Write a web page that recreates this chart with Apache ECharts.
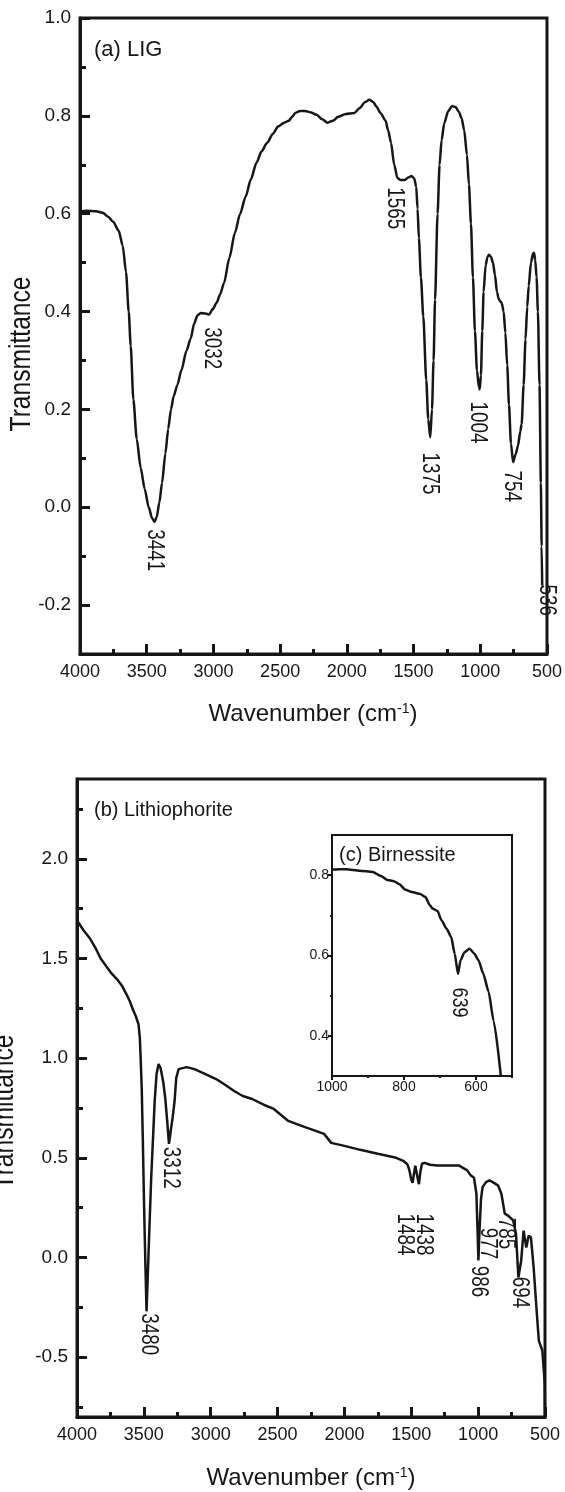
<!DOCTYPE html>
<html>
<head>
<meta charset="utf-8">
<script src="https://cdn.jsdelivr.net/npm/echarts@6.0.0/dist/echarts.min.js"></script>
<style>
  html, body { margin: 0; padding: 0; background: #fff; }
  #chart { width: 565px; height: 1492px; }
</style>
</head>
<body>
<div id="chart"></div>
<script>
// (a) LIG, [wavenumber, transmittance]
const ligSpectrum = [
  [4000, 0.604], [3950, 0.606], [3880, 0.605], [3830, 0.602], [3790, 0.594], [3750, 0.583],
  [3710, 0.565], [3680, 0.535], [3655, 0.48], [3635, 0.40], [3620, 0.33], [3600, 0.22],
  [3575, 0.14], [3545, 0.08], [3515, 0.037], [3485, 0.0], [3460, -0.022], [3441, -0.03],
  [3425, -0.02], [3405, 0.01], [3385, 0.05], [3360, 0.11], [3339, 0.16], [3318, 0.2],
  [3298, 0.227], [3270, 0.25], [3240, 0.28], [3202, 0.32], [3170, 0.345], [3145, 0.375],
  [3120, 0.392], [3095, 0.397], [3060, 0.396], [3032, 0.394], [3005, 0.405], [2976, 0.418],
  [2950, 0.435], [2920, 0.459], [2880, 0.51], [2839, 0.561], [2800, 0.60], [2758, 0.635],
  [2720, 0.67], [2677, 0.704], [2640, 0.727], [2597, 0.745], [2555, 0.763], [2516, 0.778],
  [2470, 0.786], [2435, 0.79], [2410, 0.798], [2387, 0.806], [2350, 0.81], [2314, 0.81],
  [2270, 0.807], [2226, 0.802], [2185, 0.793], [2145, 0.786], [2105, 0.79], [2065, 0.798],
  [2008, 0.804], [1944, 0.806], [1903, 0.816], [1865, 0.828], [1831, 0.833], [1800, 0.828],
  [1782, 0.82], [1745, 0.805], [1710, 0.79], [1690, 0.77], [1669, 0.745], [1645, 0.70],
  [1621, 0.673], [1600, 0.669], [1565, 0.669], [1540, 0.674], [1515, 0.677], [1495, 0.672],
  [1480, 0.655], [1470, 0.61], [1460, 0.55], [1445, 0.47], [1427, 0.39], [1405, 0.26],
  [1390, 0.18], [1375, 0.143], [1362, 0.2], [1350, 0.3], [1339, 0.424], [1320, 0.6],
  [1305, 0.7], [1290, 0.75], [1270, 0.785], [1240, 0.81], [1210, 0.82], [1185, 0.818],
  [1160, 0.808], [1140, 0.795], [1120, 0.77], [1100, 0.72], [1085, 0.66], [1070, 0.58],
  [1055, 0.47], [1040, 0.36], [1025, 0.28], [1010, 0.245], [1004, 0.241], [995, 0.27],
  [985, 0.36], [975, 0.44], [960, 0.495], [945, 0.512], [935, 0.516], [920, 0.512],
  [905, 0.5], [890, 0.475], [875, 0.44], [860, 0.424], [840, 0.418], [825, 0.4],
  [812, 0.357], [798, 0.29], [785, 0.21], [770, 0.13], [754, 0.092], [735, 0.108],
  [718, 0.125], [700, 0.155], [690, 0.17], [675, 0.25], [661, 0.343], [648, 0.41],
  [637, 0.452], [620, 0.5], [605, 0.518], [597, 0.52], [588, 0.505], [578, 0.47],
  [568, 0.4], [556, 0.25], [546, 0.05], [540, -0.08], [536, -0.16]
];
// peak labels: [wavenumber, transmittance, text] (label centre)
const ligPeaks = [
  [3445, -0.088, '3441'], [3014, 0.325, '3032'], [1647, 0.611, '1565'],
  [1385, 0.069, '1375'], [1023, 0.173, '1004'], [766, 0.043, '754'], [508, -0.19, '536']
];

// (b) Lithiophorite
const lithioSpectrum = [
  [4000, 1.69], [3950, 1.64], [3903, 1.6], [3860, 1.55], [3823, 1.5], [3780, 1.46],
  [3742, 1.425], [3700, 1.395], [3661, 1.36], [3630, 1.32], [3605, 1.285], [3580, 1.24],
  [3560, 1.21], [3540, 1.17], [3530, 1.1], [3524, 1.0], [3516, 0.85], [3508, 0.6],
  [3498, 0.25], [3488, -0.05], [3480, -0.27], [3470, -0.08], [3460, 0.12], [3445, 0.4],
  [3430, 0.62], [3419, 0.785], [3405, 0.92], [3390, 0.97], [3375, 0.95], [3355, 0.88],
  [3340, 0.8], [3325, 0.68], [3312, 0.57], [3298, 0.64], [3285, 0.7], [3270, 0.785],
  [3258, 0.9], [3240, 0.945], [3226, 0.955], [3180, 0.955], [3121, 0.945], [3040, 0.92],
  [2960, 0.895], [2890, 0.865], [2825, 0.835], [2760, 0.81], [2690, 0.795], [2600, 0.765],
  [2528, 0.745], [2420, 0.685], [2300, 0.655], [2152, 0.62], [2099, 0.575], [2000, 0.56],
  [1882, 0.54], [1750, 0.52], [1613, 0.5], [1560, 0.485], [1530, 0.468], [1515, 0.44],
  [1500, 0.39], [1490, 0.375], [1480, 0.42], [1470, 0.46], [1460, 0.45], [1450, 0.39],
  [1443, 0.368], [1432, 0.43], [1420, 0.47], [1400, 0.475], [1360, 0.465], [1306, 0.462],
  [1200, 0.462], [1145, 0.462], [1082, 0.437], [1056, 0.412], [1031, 0.40], [1013, 0.32],
  [1005, 0.15], [998, -0.015], [992, 0.1], [979, 0.29], [967, 0.353], [941, 0.378],
  [916, 0.387], [891, 0.378], [852, 0.362], [826, 0.32], [801, 0.22], [776, 0.21],
  [738, 0.186], [717, 0.12], [699, -0.1], [678, -0.015], [660, 0.135], [640, 0.05],
  [622, 0.11], [605, 0.1], [585, -0.05], [559, -0.3], [546, -0.417], [520, -0.467],
  [502, -0.63], [500, -0.8]
];
const lithioPeaks = [
  [3469, -0.385, '3480'], [3305, 0.45, '3312'], [1555, 0.115, '1484'], [1413, 0.115, '1438'],
  [1000, -0.12, '986'], [929, 0.07, '977'], [800, 0.12, '785'], [695, -0.175, '694']
];

// (c) Birnessite inset
const birnSpectrum = [
  [1000, 0.815], [996, 0.814], [960, 0.815], [923, 0.811], [887, 0.808], [864, 0.798],
  [846, 0.788], [828, 0.785], [814, 0.778], [796, 0.764], [778, 0.758], [755, 0.753],
  [741, 0.746], [728, 0.725], [721, 0.717], [707, 0.711], [696, 0.688], [682, 0.667],
  [669, 0.646], [659, 0.604], [650, 0.554], [643, 0.588], [632, 0.608], [618, 0.617],
  [605, 0.605], [593, 0.588], [580, 0.555], [565, 0.51], [551, 0.437], [531, 0.30]
];
const birnPeaks = [[646, 0.483, '639']];

// tick values
const ligYTicks = [-0.2, 0, 0.2, 0.4, 0.6, 0.8, 1.0];
const ligYMinor = [-0.1, 0.1, 0.3, 0.5, 0.7, 0.9];
const lithioYTicks = [-0.5, 0, 0.5, 1.0, 1.5, 2.0];
const lithioYMinor = [-0.75, -0.25, 0.25, 0.75, 1.25, 1.75, 2.25];
const birnXTicks = [1000, 800, 600];
const birnXMinor = [900, 700, 500];
const birnYTicks = [0.4, 0.6, 0.8];
const birnYMinor = [0.5, 0.7];

const FONT = '"Liberation Sans", Arial, sans-serif';
const INK = '#161616';
const NARROW_SCALE = 0.82; // rotated texts in the figure are condensed

function mainX(gridIndex) {
  return {
    type: 'value', gridIndex: gridIndex, min: 500, max: 4000, interval: 500, inverse: true,
    position: 'bottom',
    axisLine: { show: true, onZero: false, lineStyle: { color: INK, width: 3 } },
    axisTick: { inside: true, length: 10, lineStyle: { color: INK, width: 3 } },
    minorTick: { show: true, splitNumber: 2, length: 5, lineStyle: { color: INK, width: 3 } },
    axisLabel: { fontSize: 18, fontFamily: FONT, color: INK, margin: 9,
      formatter: function (v) { return String(v); } },
    splitLine: { show: false }
  };
}

function yAxisMajor(gridIndex, min, max, ticks, fontSize, width, tickLen, inside) {
  return {
    type: 'value', gridIndex: gridIndex, min: min, max: max, position: 'left',
    axisLine: { show: true, onZero: false, lineStyle: { color: INK, width: width } },
    axisTick: { inside: inside, length: tickLen, customValues: ticks, lineStyle: { color: INK, width: width } },
    axisLabel: { customValues: ticks, fontSize: fontSize, fontFamily: FONT, color: INK, margin: inside ? 9 : 3,
      formatter: function (v) { return v.toFixed(1); } },
    splitLine: { show: false }
  };
}

function yAxisMinor(gridIndex, min, max, ticks, width, tickLen, inside) {
  return {
    type: 'value', gridIndex: gridIndex, min: min, max: max, position: 'left',
    axisLine: { show: false, onZero: false },
    axisTick: { inside: inside, length: tickLen, customValues: ticks, lineStyle: { color: INK, width: width } },
    axisLabel: { show: false },
    splitLine: { show: false }
  };
}

// rotated peak labels, placed through the axes of their panel
function peakLabels(xi, yi, data, size) {
  return {
    type: 'custom', xAxisIndex: xi, yAxisIndex: yi, data: data,
    silent: true, z: 5, clip: false,
    encode: { x: 0, y: 1 },
    renderItem: function (params, api) {
      const p = api.coord([api.value(0), api.value(1)]);
      return {
        type: 'text', x: p[0], y: p[1], rotation: -Math.PI / 2, scaleX: NARROW_SCALE, scaleY: 1,
        style: { text: String(data[params.dataIndex][2]), fontSize: size, fontFamily: FONT,
          fill: INK, align: 'center', verticalAlign: 'middle' }
      };
    }
  };
}

const wavenumberTitle = {
  text: 'Wavenumber (cm{sup|-1})',
  fontSize: 24, fontFamily: FONT, fill: INK, align: 'center', verticalAlign: 'middle',
  rich: { sup: { fontSize: 14, fontFamily: FONT, verticalAlign: 'top' } }
};

const chart = echarts.init(document.getElementById('chart'), null, { renderer: 'canvas' });

const option = {
  backgroundColor: '#fff',
  animation: false,
  grid: [
    { left: 80, top: 18, width: 467, height: 636, show: true, borderColor: INK, borderWidth: 3 },
    { left: 77, top: 779, width: 468, height: 638, show: true, borderColor: INK, borderWidth: 3 },
    { left: 332, top: 835, width: 180, height: 241, show: true, borderColor: INK, borderWidth: 2,
      backgroundColor: '#fff', z: 3 }
  ],
  xAxis: [
    mainX(0),
    mainX(1),
    {
      type: 'value', gridIndex: 2, min: 500, max: 1000, inverse: true, position: 'bottom',
      axisLine: { show: true, onZero: false, lineStyle: { color: INK, width: 2 } },
      axisTick: { inside: false, length: 4, customValues: birnXTicks, lineStyle: { color: INK, width: 2 } },
      axisLabel: { customValues: birnXTicks, fontSize: 14, fontFamily: FONT, color: INK, margin: 4,
        formatter: function (v) { return String(v); } },
      splitLine: { show: false }, z: 4
    },
    {
      type: 'value', gridIndex: 2, min: 500, max: 1000, inverse: true, position: 'bottom',
      axisLine: { show: false, onZero: false },
      axisTick: { inside: false, length: 2, customValues: birnXMinor, lineStyle: { color: INK, width: 2 } },
      axisLabel: { show: false },
      splitLine: { show: false }, z: 4
    }
  ],
  yAxis: [
    yAxisMajor(0, -0.3, 1.0, ligYTicks, 19, 3, 10, true),
    yAxisMinor(0, -0.3, 1.0, ligYMinor, 3, 6, true),
    yAxisMajor(1, -0.8, 2.4, lithioYTicks, 19, 3, 10, true),
    yAxisMinor(1, -0.8, 2.4, lithioYMinor, 3, 6, true),
    Object.assign(yAxisMajor(2, 0.3, 0.9, birnYTicks, 14, 2, 4, false), { z: 4 }),
    Object.assign(yAxisMinor(2, 0.3, 0.9, birnYMinor, 2, 2, false), { z: 4 })
  ],
  series: [
    {
      type: 'line', xAxisIndex: 0, yAxisIndex: 0, data: ligSpectrum,
      showSymbol: false, smooth: 0.25, smoothMonotone: 'x',
      lineStyle: { color: INK, width: 2.5 }
    },
    peakLabels(0, 0, ligPeaks, 23),
    {
      type: 'line', xAxisIndex: 1, yAxisIndex: 2, data: lithioSpectrum,
      showSymbol: false, lineStyle: { color: INK, width: 2.5 }
    },
    peakLabels(1, 2, lithioPeaks, 23),
    {
      type: 'line', xAxisIndex: 2, yAxisIndex: 4, data: birnSpectrum, z: 6,
      showSymbol: false, smooth: 0.2, smoothMonotone: 'x',
      lineStyle: { color: INK, width: 2.5 }
    },
    Object.assign(peakLabels(2, 4, birnPeaks, 22), { z: 7 })
  ],
  graphic: [
    { type: 'text', x: 94, y: 50, style: { text: '(a) LIG', fontSize: 22, fontFamily: FONT, fill: INK, align: 'left', verticalAlign: 'middle' } },
    { type: 'text', x: 94, y: 810, style: { text: '(b) Lithiophorite', fontSize: 20, fontFamily: FONT, fill: INK, align: 'left', verticalAlign: 'middle' } },
    { type: 'text', x: 339, y: 855, z: 10, style: { text: '(c) Birnessite', fontSize: 20, fontFamily: FONT, fill: INK, align: 'left', verticalAlign: 'middle' } },
    { type: 'text', x: 22, y: 354, rotation: Math.PI / 2, scaleX: NARROW_SCALE, style: { text: 'Transmittance', fontSize: 30, fontFamily: FONT, fill: INK, align: 'center', verticalAlign: 'middle' } },
    { type: 'text', x: 5, y: 1112, rotation: Math.PI / 2, scaleX: NARROW_SCALE, style: { text: 'Transmittance', fontSize: 30, fontFamily: FONT, fill: INK, align: 'center', verticalAlign: 'middle' } },
    { type: 'text', x: 313, y: 714, style: wavenumberTitle },
    { type: 'text', x: 311, y: 1478, style: wavenumberTitle }
  ]
};

chart.setOption(option);
</script>
</body>
</html>
